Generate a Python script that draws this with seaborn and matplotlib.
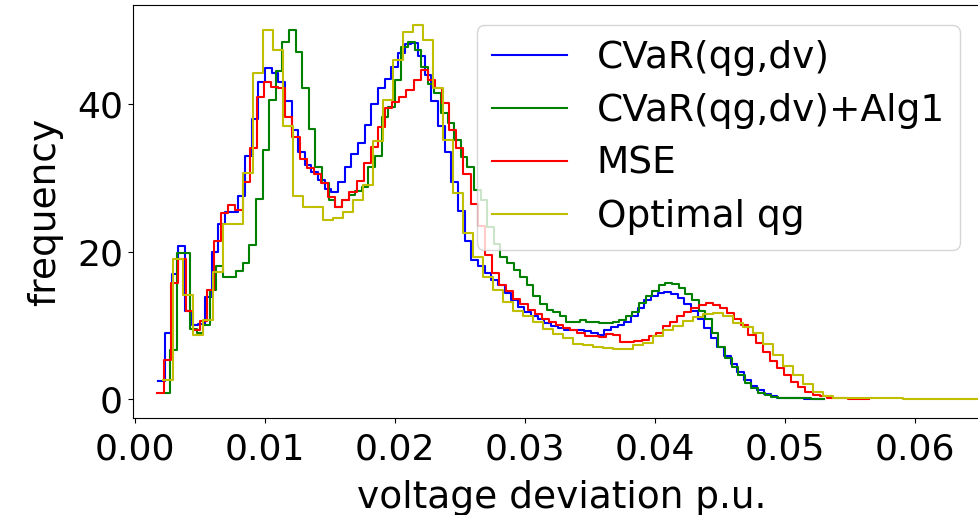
import numpy as np
import pandas as pd
import matplotlib
matplotlib.use("Agg")
import matplotlib.pyplot as plt
import seaborn as sns

# ---- data (histogram bin heights, 100 bins per series) ----
labels = ["CVaR(qg,dv)", "CVaR(qg,dv)+Alg1", "MSE", "Optimal qg"]
colors = ["b", "g", "r", "y"]

# bin ranges (start, end) per series
blue_range = (0.0018, 0.0530)
green_range = (0.0022, 0.0530)
red_range = (0.0017, 0.0565)
yellow_range = (0.00215, 0.0791)

blue_counts = [
    2.5, 9.0, 17.0, 20.8, 12.0, 10.0, 10.2, 13.8, 20.0, 23.8,
    25.4, 25.4, 27.5, 33.0, 38.0, 43.0, 44.9, 44.2, 43.0, 40.5,
    36.5, 33.5, 31.8, 30.8, 29.7, 28.5, 28.1, 29.5, 31.5, 33.2,
    34.8, 37.2, 40.0, 42.2, 43.4, 45.0, 47.0, 48.2, 48.3, 46.5,
    44.0, 40.5, 37.0, 33.5, 29.5, 25.5, 21.5, 18.8, 18.0, 17.1,
    16.2, 15.4, 14.4, 13.4, 12.5, 11.8, 11.2, 10.8, 10.3, 9.9,
    9.6, 9.4, 9.3, 9.3, 9.2, 9.0, 8.7, 9.4, 9.8, 10.0,
    10.5, 11.2, 12.3, 13.4, 14.0, 14.4, 14.5, 14.2, 13.7, 12.9,
    12.0, 10.9, 9.6, 8.3, 7.0, 5.9, 4.7, 3.6, 2.6, 1.8,
    1.2, 0.7, 0.4, 0.2, 0.1, 0.1, 0.1, 0.05, 0.05, 0.05,
]

green_counts = [
    0.8, 6.6, 19.8, 19.8, 9.5, 8.9, 10.0, 14.8, 18.0, 16.6,
    16.6, 17.3, 18.4, 20.9, 27.2, 33.8, 40.6, 44.5, 48.5, 50.1,
    47.1, 42.2, 36.7, 31.5, 29.3, 27.0, 26.0, 27.0, 27.7, 28.2,
    28.8, 31.5, 33.0, 38.3, 39.6, 43.3, 47.8, 48.5, 47.4, 45.0,
    42.8, 41.5, 38.8, 37.4, 35.1, 32.8, 31.5, 28.4, 27.0, 23.4,
    21.0, 19.3, 18.4, 17.5, 16.6, 15.5, 14.0, 12.9, 12.1, 11.8,
    11.2, 10.4, 10.5, 10.7, 10.4, 10.4, 10.3, 10.3, 10.5, 10.7,
    11.2, 11.8, 13.0, 14.0, 14.6, 15.5, 15.7, 15.6, 15.1, 14.3,
    13.4, 12.0, 10.8, 8.9, 7.0, 5.6, 4.4, 3.3, 2.2, 1.5,
    0.8, 0.5, 0.3, 0.2, 0.1, 0.1, 0.1, 0.1, 0.05, 0.05,
]

red_counts = [
    0.8, 5.3, 15.7, 19.0, 12.0, 9.4, 10.6, 14.8, 21.5, 25.2,
    26.3, 25.7, 29.5, 34.0, 41.0, 43.0, 42.4, 42.2, 38.3, 35.5,
    32.5, 31.3, 30.5, 29.3, 27.4, 26.0, 27.0, 28.1, 29.6, 32.0,
    34.2, 36.9, 39.5, 40.3, 41.0, 41.9, 43.3, 44.6, 43.3, 42.2,
    40.2, 36.5, 34.0, 30.5, 26.5, 23.5, 19.5, 17.1, 15.5, 14.6,
    13.6, 12.9, 12.1, 11.5, 10.9, 10.5, 10.0, 9.6, 9.3, 9.0,
    8.6, 8.5, 8.4, 8.8, 8.7, 7.8, 7.7, 7.9, 8.0, 8.6,
    9.0, 9.9, 10.4, 11.2, 11.8, 12.4, 12.7, 13.0, 12.8, 12.3,
    11.6, 10.8, 10.0, 8.7, 7.6, 6.4, 5.2, 4.2, 3.2, 2.3,
    1.6, 1.0, 0.6, 0.4, 0.2, 0.1, 0.1, 0.05, 0.05, 0.05,
]

yellow_counts = [
    2.6, 19.0, 14.1, 8.7, 10.7, 17.2, 23.8, 23.8, 30.6, 44.2,
    50.1, 47.4, 37.0, 27.5, 26.0, 26.0, 24.3, 24.5, 25.4, 27.0,
    29.0, 35.0, 40.6, 46.0, 49.8, 50.7, 48.7, 42.2, 35.1, 27.9,
    22.5, 19.3, 16.6, 14.8, 13.2, 12.0, 11.2, 10.4, 9.5, 8.8,
    8.3, 7.5, 7.3, 7.0, 6.9, 6.8, 6.8, 7.3, 7.6, 8.5,
    9.3, 9.9, 10.6, 11.1, 11.5, 11.6, 11.2, 10.3, 9.7, 9.0,
    7.5, 6.0, 4.5, 3.2, 2.0, 1.0, 0.4, 0.2, 0.15, 0.1,
    0.1, 0.1, 0.08, 0.08, 0.06, 0.06, 0.05, 0.05, 0.04, 0.04,
    0.04, 0.03, 0.03, 0.03, 0.03, 0.02, 0.02, 0.02, 0.02, 0.02,
    0.02, 0.01, 0.01, 0.01, 0.01, 0.01, 0.01, 0.01, 0.01, 0.01,
]

xlabel = "voltage deviation p.u."
ylabel = "frequency"
xticks = [0.00, 0.01, 0.02, 0.03, 0.04, 0.05, 0.06]
yticks = [0, 20, 40]

# ---- figure ----
W, H = 979, 515
fig = plt.figure(figsize=(W / 100, H / 100), dpi=100)
ax = fig.add_axes([132.7 / W, (H - 418) / H, (990 - 132.7) / W, (418 - 5) / H])

series = [
    (blue_range, blue_counts),
    (green_range, green_counts),
    (red_range, red_counts),
    (yellow_range, yellow_counts),
]

for (rng, counts), lab, col in zip(series, labels, colors):
    edges = np.linspace(rng[0], rng[1], len(counts) + 1)
    centers = (edges[:-1] + edges[1:]) / 2
    df = pd.DataFrame({"x": centers, "w": counts})
    sns.histplot(data=df, x="x", weights="w", bins=[float(e) for e in edges],
                 element="step", fill=False, color=col, linewidth=1.5,
                 label=lab, ax=ax)

ax.set_xlim(-0.000177, 0.06577)
ax.set_ylim(-2.58, 53.46)
ax.set_xticks(xticks)
ax.set_xticklabels([f"{t:.2f}" for t in xticks])
ax.set_yticks(yticks)
ax.tick_params(axis="x", labelsize=26, pad=7)
ax.tick_params(axis="y", labelsize=26)
ax.set_xlabel(xlabel, fontsize=27, labelpad=10)
ax.set_ylabel(ylabel, fontsize=27, labelpad=10)

leg = ax.legend(loc="upper right", bbox_to_anchor=(960 / W, 1 - 25 / H),
                bbox_transform=fig.transFigure, borderaxespad=0, fontsize=27,
                labelspacing=0.45)

fig.savefig("out.png", dpi=100)
